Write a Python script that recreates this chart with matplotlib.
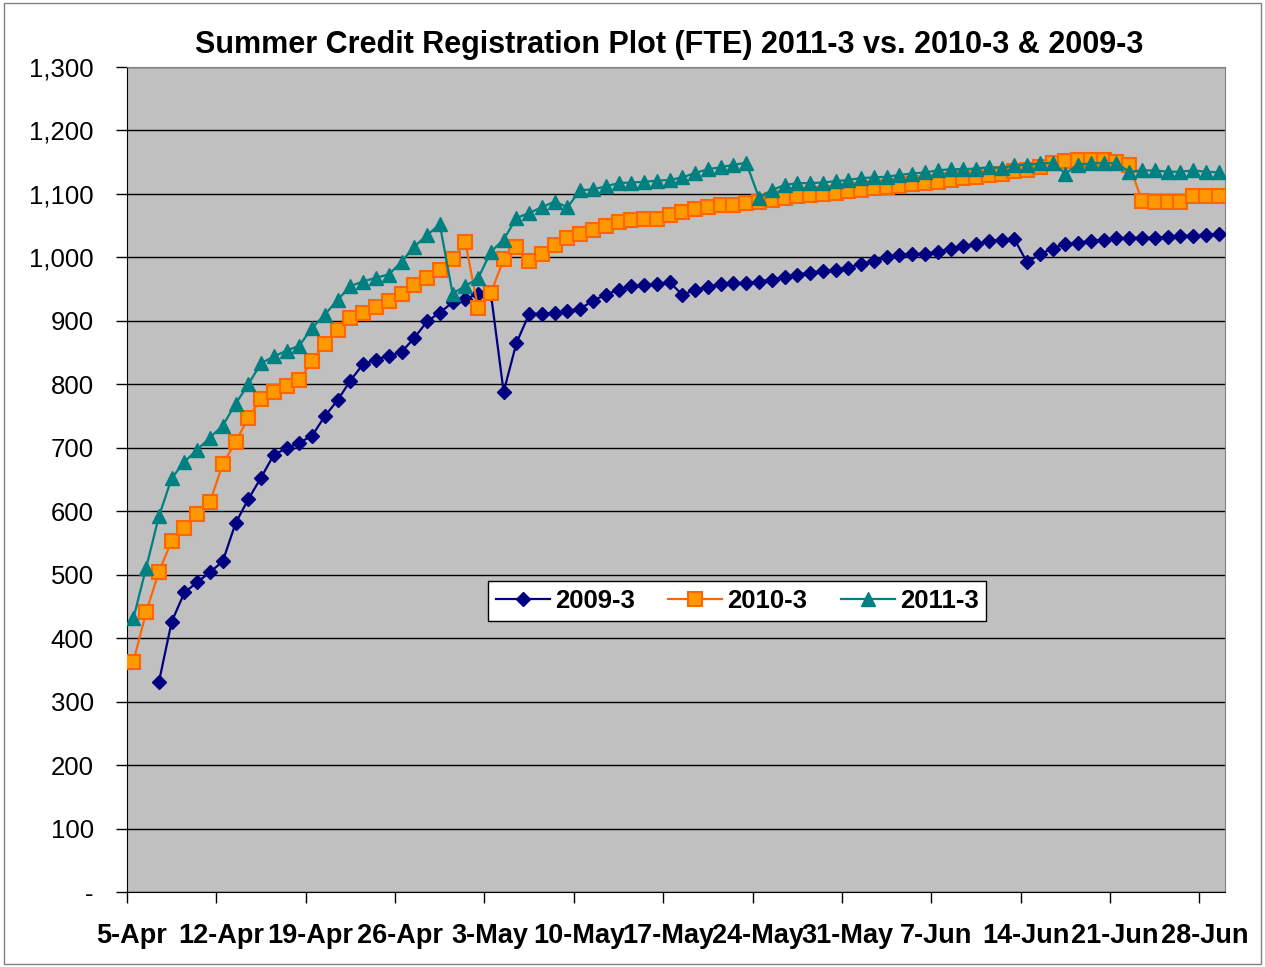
import numpy as np
import matplotlib
matplotlib.use('Agg')
import matplotlib.pyplot as plt
import matplotlib.transforms as mtransforms
from matplotlib.ticker import FuncFormatter, FixedLocator, MultipleLocator
from matplotlib.patches import Rectangle

plt.rcParams['font.family'] = ['Liberation Sans', 'DejaVu Sans']

# one value per day, 5-Apr .. 29-Jun
tick_labels = ['5-Apr', '12-Apr', '19-Apr', '26-Apr', '3-May', '10-May', '17-May',
               '24-May', '31-May', '7-Jun', '14-Jun', '21-Jun', '28-Jun']

fte_2009 = [np.nan, np.nan, 331, 426, 472, 488, 504, 521, 581, 619,
            653, 689, 699, 708, 719, 750, 775, 806, 832, 839,
            845, 851, 873, 899, 913, 929, 935, 942, 943, 788,
            865, 911, 911, 913, 915, 919, 932, 941, 949, 955,
            956, 958, 961, 941, 949, 953, 958, 959, 960, 962,
            965, 969, 973, 976, 979, 980, 984, 990, 994, 1000,
            1004, 1005, 1006, 1009, 1014, 1018, 1021, 1026, 1027, 1029,
            992, 1005, 1014, 1021, 1023, 1026, 1028, 1030, 1030, 1031,
            1031, 1032, 1034, 1034, 1035, 1037]

fte_2010 = [363, 441, 505, 553, 574, 595, 615, 674, 709, 747,
            777, 788, 797, 807, 837, 864, 886, 905, 913, 922,
            932, 943, 956, 968, 980, 998, 1024, 920, 944, 997,
            1016, 995, 1006, 1019, 1031, 1037, 1043, 1050, 1056, 1059,
            1060, 1061, 1067, 1072, 1076, 1080, 1082, 1083, 1085, 1088,
            1091, 1094, 1096, 1098, 1100, 1102, 1104, 1106, 1110, 1111,
            1113, 1116, 1118, 1119, 1122, 1125, 1127, 1130, 1132, 1136,
            1138, 1143, 1149, 1152, 1153, 1153, 1153, 1151, 1146, 1089,
            1088, 1088, 1088, 1096, 1096, 1096]

fte_2011 = [431, 511, 592, 652, 678, 697, 716, 735, 769, 800,
            833, 844, 853, 861, 889, 910, 933, 955, 962, 968,
            973, 993, 1017, 1035, 1052, 943, 955, 967, 1009, 1028,
            1062, 1070, 1079, 1088, 1079, 1106, 1107, 1112, 1117, 1118,
            1119, 1121, 1122, 1126, 1133, 1139, 1142, 1146, 1149, 1094,
            1106, 1114, 1117, 1117, 1118, 1120, 1122, 1125, 1126, 1127,
            1130, 1132, 1134, 1137, 1139, 1139, 1140, 1142, 1141, 1145,
            1146, 1148, 1149, 1132, 1146, 1148, 1149, 1148, 1135, 1137,
            1137, 1135, 1135, 1137, 1135, 1134]

days = np.arange(len(fte_2011)) + 0.5

fig = plt.figure(figsize=(12.65, 9.67), dpi=100)
fig.patches.append(Rectangle((0.003, 0.003), 0.994, 0.994, transform=fig.transFigure,
                             fill=False, edgecolor='#808080', linewidth=1))
ax = fig.add_axes([127 / 1265, 1 - 892 / 967, 1098 / 1265, 825 / 967])
ax.set_facecolor('#C0C0C0')

ax.plot(days, fte_2009, color='#000080', linewidth=1.6, marker='D', markersize=7.5,
        markerfacecolor='#000080', markeredgecolor='#000080', label='2009-3', zorder=3)
ax.plot(days, fte_2010, color='#FF6600', linewidth=1.6, marker='s', markersize=10,
        markerfacecolor='#FF9900', markeredgecolor='#FF6600', markeredgewidth=1.5,
        label='2010-3', zorder=4)
ax.plot(days, fte_2011, color='#008080', linewidth=1.6, marker='^', markersize=10,
        markerfacecolor='#008080', markeredgecolor='#008080', label='2011-3', zorder=5)

ax.set_xlim(0, len(fte_2011))
ax.set_ylim(0, 1300)
ax.yaxis.set_major_locator(MultipleLocator(100))
ax.yaxis.set_major_formatter(FuncFormatter(lambda v, p: '-' if v == 0 else f'{v:,.0f}'))
ax.xaxis.set_major_locator(FixedLocator(np.arange(len(tick_labels)) * 7))
ax.set_xticklabels(tick_labels, fontsize=19.5, fontweight='bold')
ax.tick_params(axis='x', direction='out', length=8, width=1, pad=14)
ax.tick_params(axis='y', direction='out', length=8, width=1, pad=16, labelsize=18.5)

# Excel draws the date labels a few pixels right of their ticks
shift = mtransforms.ScaledTranslation(5 / 100, 0, fig.dpi_scale_trans)
for lbl in ax.get_xticklabels():
    lbl.set_transform(lbl.get_transform() + shift)

ax.grid(axis='y', color='black', linewidth=1)
ax.set_axisbelow(True)
for side in ['top', 'right']:
    ax.spines[side].set_color('#808080')
for side in ['left', 'bottom']:
    ax.spines[side].set_color('black')

ax.set_title('Summer Credit Registration Plot (FTE) 2011-3 vs. 2010-3 & 2009-3',
             fontsize=22, fontweight='bold', pad=10, x=0.4936)

leg = ax.legend(loc='center', bbox_to_anchor=(0.5556, 0.3527), ncol=3,
                prop={'size': 18.5, 'weight': 'bold'}, frameon=True, fancybox=False,
                edgecolor='black', facecolor='white', framealpha=1,
                handlelength=2.1, columnspacing=1.3, borderpad=0.3, handletextpad=0.2)
leg.get_frame().set_linewidth(1)

plt.savefig('out.png', dpi=100)
